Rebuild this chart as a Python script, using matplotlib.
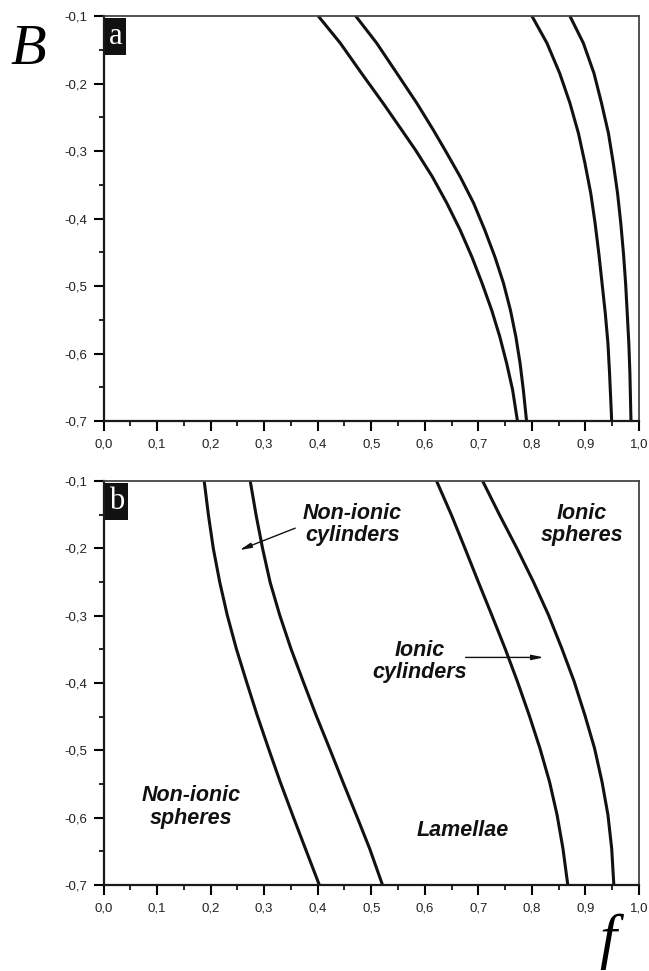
import matplotlib
matplotlib.use("Agg")
import matplotlib.pyplot as plt
from matplotlib.ticker import MultipleLocator, FixedLocator

# ---------------- data ----------------
# panel a
B_a12 = [-0.1, -0.140, -0.185, -0.229, -0.269, -0.299, -0.338, -0.377, -0.417,
         -0.457, -0.496, -0.536, -0.575, -0.615, -0.654, -0.7]
a_curve1 = [0.401, 0.442, 0.482, 0.522, 0.557, 0.583, 0.614, 0.641, 0.666,
            0.688, 0.707, 0.725, 0.740, 0.753, 0.764, 0.773]
B_a2 = [-0.1, -0.140, -0.185, -0.229, -0.269, -0.303, -0.338, -0.377, -0.417,
        -0.457, -0.496, -0.536, -0.575, -0.615, -0.654, -0.7]
a_curve2 = [0.471, 0.510, 0.548, 0.585, 0.616, 0.641, 0.666, 0.691, 0.712,
            0.731, 0.747, 0.760, 0.770, 0.778, 0.784, 0.790]
B_a34 = [-0.1, -0.140, -0.185, -0.229, -0.274, -0.318, -0.363, -0.407, -0.452,
         -0.496, -0.540, -0.585, -0.629, -0.7]
a_curve3 = [0.800, 0.828, 0.852, 0.871, 0.887, 0.899, 0.910, 0.918, 0.925,
            0.931, 0.937, 0.942, 0.945, 0.949]
a_curve4 = [0.871, 0.896, 0.916, 0.930, 0.943, 0.952, 0.960, 0.966, 0.971,
            0.975, 0.978, 0.981, 0.983, 0.985]

# panel b
B_b = [-0.1, -0.151, -0.200, -0.250, -0.299, -0.349, -0.398, -0.448, -0.497,
       -0.547, -0.596, -0.646, -0.7]
b_curve1 = [0.188, 0.196, 0.205, 0.217, 0.231, 0.248, 0.267, 0.287, 0.308,
            0.330, 0.353, 0.377, 0.403]
b_curve2 = [0.274, 0.285, 0.297, 0.311, 0.329, 0.350, 0.373, 0.397, 0.422,
            0.447, 0.472, 0.497, 0.521]
b_curve3 = [0.622, 0.650, 0.675, 0.700, 0.725, 0.750, 0.773, 0.795, 0.815,
            0.833, 0.847, 0.858, 0.867]
b_curve4 = [0.708, 0.740, 0.772, 0.803, 0.831, 0.856, 0.879, 0.899, 0.917,
            0.931, 0.942, 0.949, 0.953]

x_ticks = [0.0, 0.1, 0.2, 0.3, 0.4, 0.5, 0.6, 0.7, 0.8, 0.9, 1.0]
x_tick_labels = ["0,0", "0,1", "0,2", "0,3", "0,4", "0,5", "0,6", "0,7", "0,8", "0,9", "1,0"]
y_ticks = [-0.1, -0.2, -0.3, -0.4, -0.5, -0.6, -0.7]
y_tick_labels = ["-0,1", "-0,2", "-0,3", "-0,4", "-0,5", "-0,6", "-0,7"]

panel_letters = ["a", "b"]
region_labels = ["Non-ionic\ncylinders", "Ionic\nspheres", "Ionic\ncylinders",
                 "Non-ionic\nspheres", "Lamellae"]
region_pos = [(0.465, -0.165), (0.894, -0.165), (0.591, -0.368), (0.164, -0.584), (0.671, -0.619)]
arrow_from = [(0.358, -0.170), (0.676, -0.362)]
arrow_to = [(0.254, -0.2025), (0.822, -0.362)]

# ---------------- figure ----------------
fig = plt.figure(figsize=(6.49, 9.71), dpi=100)
ax_a = fig.add_axes([0.1595, 0.5664, 0.8251, 0.4171])
ax_b = fig.add_axes([0.1595, 0.0886, 0.8251, 0.4160])

tick_font = dict(family=["Liberation Sans Narrow", "Liberation Sans", "DejaVu Sans"], size=9.5)

for ax, letter in zip([ax_a, ax_b], panel_letters):
    ax.set_xlim(0.0, 1.0)
    ax.set_ylim(-0.7, -0.1)
    ax.xaxis.set_major_locator(FixedLocator(x_ticks))
    ax.yaxis.set_major_locator(FixedLocator(y_ticks))
    ax.xaxis.set_minor_locator(MultipleLocator(0.05))
    ax.yaxis.set_minor_locator(MultipleLocator(0.05))
    ax.set_xticklabels(x_tick_labels, fontdict=tick_font, color="#222222")
    ax.set_yticklabels(y_tick_labels, fontdict=tick_font, color="#222222")
    ax.tick_params(which="major", direction="out", length=7, width=1.5,
                   top=False, right=False)
    ax.tick_params(axis="x", which="major", pad=5.5)
    ax.tick_params(axis="y", which="major", pad=4.5)
    ax.tick_params(which="minor", direction="out", length=3.5, width=1.2,
                   top=False, right=False)
    for s in ["left", "bottom"]:
        ax.spines[s].set_linewidth(1.6)
        ax.spines[s].set_color("#1a1a1a")
    for s in ["top", "right"]:
        ax.spines[s].set_linewidth(1.3)
        ax.spines[s].set_color("#444444")
    ax.text(0.010, 0.985, letter, transform=ax.transAxes, ha="left", va="top",
            color="white", fontsize=22, family=["Liberation Serif", "DejaVu Serif"],
            bbox=dict(boxstyle="square,pad=0.12", facecolor="#111111", edgecolor="none"),
            zorder=5)

lw = 2.2
ax_a.plot(a_curve1, B_a12, color="#111111", lw=lw)
ax_a.plot(a_curve2, B_a2, color="#111111", lw=lw)
ax_a.plot(a_curve3, B_a34, color="#111111", lw=lw)
ax_a.plot(a_curve4, B_a34, color="#111111", lw=lw)
for c in [b_curve1, b_curve2, b_curve3, b_curve4]:
    ax_b.plot(c, B_b, color="#111111", lw=lw)

lab_font = dict(family=["Liberation Sans", "DejaVu Sans"], weight="bold", style="italic", size=15.5)
for txt, (x, y) in zip(region_labels, region_pos):
    ax_b.text(x, y, txt, ha="center", va="center", linespacing=1.08, color="#111111", **lab_font)

for (x0, y0), (x1, y1) in zip(arrow_from, arrow_to):
    ax_b.annotate("", xy=(x1, y1), xytext=(x0, y0),
                  arrowprops=dict(arrowstyle="-|>,head_length=0.7,head_width=0.15",
                                  color="#111111", lw=1.0, shrinkA=0, shrinkB=0))

fig.text(0.043, 0.9485, "B", ha="center", va="center", fontsize=42, style="italic",
         family=["Liberation Serif", "DejaVu Serif"])
fig.text(0.937, 0.030, "f", ha="center", va="center", fontsize=44, style="italic",
         family=["Liberation Serif", "DejaVu Serif"])

fig.savefig("out.png", dpi=100)
